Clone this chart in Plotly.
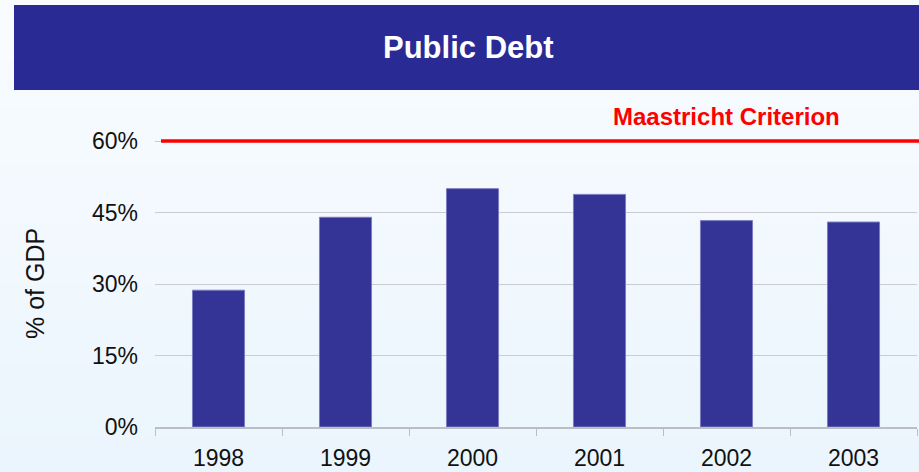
import plotly.graph_objects as go

# Public debt as a share of GDP, by year
years = ["1998", "1999", "2000", "2001", "2002", "2003"]
debt_pct = [28.7, 44.0, 50.0, 48.8, 43.3, 43.0]

# Maastricht reference level
maastricht_limit = 60
maastricht_label = "Maastricht Criterion"
label_year = "2002"

y_ticks = [0, 15, 30, 45, 60]
y_tick_text = ["0%", "15%", "30%", "45%", "60%"]

W, H = 919, 472
M_L, M_R, M_T, M_B = 155, 2, 131, 45
PLOT_H = H - M_T - M_B
PLOT_W = W - M_L - M_R


def px_to_paper_y(py):
    return (H - M_B - py) / PLOT_H


def px_to_paper_x(px):
    return (px - M_L) / PLOT_W


FONT = "Arial, Liberation Sans, Helvetica, sans-serif"
BAR_COLOR = "#343497"
HEADER_COLOR = "#2A2A95"

fig = go.Figure()
fig.add_trace(
    go.Bar(
        x=years,
        y=debt_pct,
        width=0.41,
        marker=dict(color=BAR_COLOR, line=dict(color="#7C7CC2", width=1)),
        hoverinfo="x+y",
    )
)

shapes = []

# soft vertical background gradient
top_rgb = (249, 252, 255)
bot_rgb = (235, 245, 253)
n_bands = 40
for i in range(n_bands):
    t = i / (n_bands - 1)
    r = round(top_rgb[0] + (bot_rgb[0] - top_rgb[0]) * t)
    g = round(top_rgb[1] + (bot_rgb[1] - top_rgb[1]) * t)
    b = round(top_rgb[2] + (bot_rgb[2] - top_rgb[2]) * t)
    y_top = H * i / n_bands
    y_bot = H * (i + 1) / n_bands + 1
    shapes.append(
        dict(
            type="rect", xref="paper", yref="paper",
            x0=px_to_paper_x(0), x1=px_to_paper_x(W),
            y0=px_to_paper_y(y_bot), y1=px_to_paper_y(y_top),
            fillcolor=f"rgb({r},{g},{b})", line=dict(width=0), layer="below",
        )
    )

# header band
shapes.append(
    dict(
        type="rect", xref="paper", yref="paper",
        x0=px_to_paper_x(14), x1=px_to_paper_x(W + 2),
        y0=px_to_paper_y(90), y1=px_to_paper_y(5),
        fillcolor=HEADER_COLOR, line=dict(width=0), layer="below",
    )
)

# Maastricht limit line
shapes.append(
    dict(
        type="line", xref="paper", yref="y",
        x0=px_to_paper_x(161), x1=px_to_paper_x(W + 2),
        y0=maastricht_limit, y1=maastricht_limit,
        line=dict(color="#FF0000", width=3.5), layer="above",
    )
)

# the label sits centred over one of the year columns
label_idx = years.index(label_year)
label_x = (label_idx + 0.5) / len(years)

annotations = [
    dict(
        text="<b>Public Debt</b>", xref="paper", yref="paper",
        x=px_to_paper_x(468), y=px_to_paper_y(48),
        xanchor="center", yanchor="middle", showarrow=False,
        font=dict(family=FONT, size=31, color="white"),
    ),
    dict(
        text="<b>" + maastricht_label + "</b>", xref="paper", yref="paper",
        x=label_x, y=px_to_paper_y(116),
        xanchor="center", yanchor="middle", showarrow=False,
        font=dict(family=FONT, size=24, color="#FF0000"),
    ),
    dict(
        text="% of GDP", xref="paper", yref="paper",
        x=px_to_paper_x(35), y=px_to_paper_y(284),
        xanchor="center", yanchor="middle", textangle=-90, showarrow=False,
        font=dict(family=FONT, size=25, color="#111111"),
    ),
]

fig.update_layout(
    width=W, height=H,
    margin=dict(l=M_L, r=M_R, t=M_T, b=M_B, pad=0),
    paper_bgcolor="rgb(242,248,254)",
    plot_bgcolor="rgba(0,0,0,0)",
    showlegend=False,
    shapes=shapes,
    annotations=annotations,
    bargap=0.59,
    xaxis=dict(
        type="category",
        range=[-0.5, 5.5],
        tickson="boundaries",
        ticks="outside", ticklen=7, tickcolor="#BDBDC6", tickwidth=1,
        showline=True, linecolor="#BDBDC6", linewidth=1.5,
        showgrid=False, zeroline=False,
        tickfont=dict(family=FONT, size=23, color="#111111"),
        ticklabelstandoff=10,
        automargin=False,
    ),
    yaxis=dict(
        range=[0, 62.1],
        tickvals=y_ticks, ticktext=y_tick_text,
        showgrid=True, gridcolor="#CBCBD2", gridwidth=1,
        zeroline=False, showline=False, ticks="",
        tickfont=dict(family=FONT, size=23, color="#111111"),
        ticklabelstandoff=16,
        automargin=False,
    ),
)

fig.write_html("out.html")
